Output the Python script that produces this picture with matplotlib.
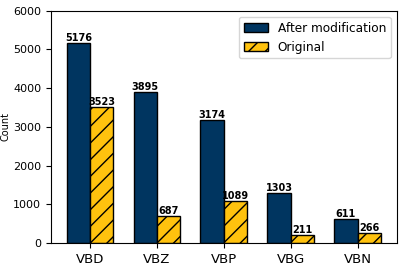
import numpy as np
import matplotlib
matplotlib.use('Agg')
import matplotlib.pyplot as plt

cats = ['VBD', 'VBZ', 'VBP', 'VBG', 'VBN']
after_mod = [5176, 3895, 3174, 1303, 611]
original = [3523, 687, 1089, 211, 266]

x = np.arange(len(cats))
w = 0.35

fig, ax = plt.subplots(figsize=(4.07, 2.68), dpi=100)
b1 = ax.bar(x - w/2, after_mod, w, color='#003560', edgecolor='black',
            linewidth=1, label='After modification')
b2 = ax.bar(x + w/2, original, w, color='#FFC20E', edgecolor='black',
            linewidth=1, hatch='//', label='Original')

for bars in (b1, b2):
    for r in bars:
        h = r.get_height()
        ax.text(r.get_x() + r.get_width()/2, h, '%d' % h, ha='center',
                va='bottom', fontsize=7, fontweight='bold')

ax.set_ylim(0, 6000)
ax.set_ylabel('Count', fontsize=7, labelpad=2)
ax.set_xticks(x)
ax.set_xticklabels(cats, fontsize=9.5)
ax.tick_params(axis='y', labelsize=8)
ax.legend(fontsize=8.7, loc='upper right')

plt.subplots_adjust(left=0.125, right=0.975, top=0.96, bottom=0.093)
plt.savefig('out.png')
